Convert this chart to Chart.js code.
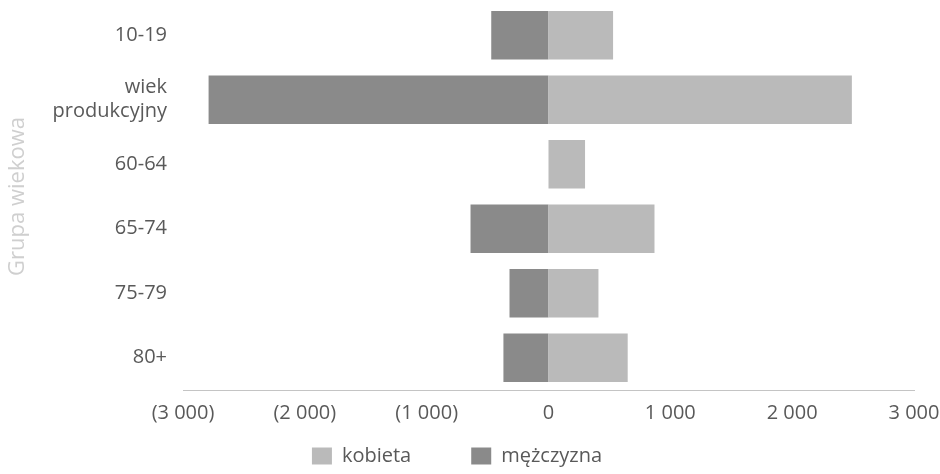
<!DOCTYPE html>
<html>
<head>
<meta charset="utf-8">
<script src="https://cdn.jsdelivr.net/npm/chart.js@4/dist/chart.umd.min.js"></script>
<style>
  html, body { margin:0; padding:0; background:#fff; }
  #wrap { width:940px; height:474px; }
</style>
</head>
<body>
<div id="wrap"><canvas id="c" width="940" height="474"></canvas></div>
<script>
// grupy wiekowe (od góry)
const groups = ['10-19', ['wiek', 'produkcyjny'], '60-64', '65-74', '75-79', '80+'];
// kobiety po prawej, mężczyźni po lewej (wartości ujemne)
const kobieta   = [530, 2490, 300, 870, 410, 650];
const mezczyzna = [-470, -2790, 0, -640, -320, -370];
const xTicks = [-3000, -2000, -1000, 0, 1000, 2000, 3000];

const FONT = '"Open Sans", "DejaVu Sans", sans-serif';
const TXT = '#595959';

const fmt = v => {
  const s = Math.abs(v).toString().replace(/\B(?=(\d{3})+(?!\d))/g, ' ');
  return v < 0 ? '(' + s + ')' : s;
};

new Chart(document.getElementById('c').getContext('2d'), {
  type: 'bar',
  data: {
    labels: groups,
    datasets: [
      { label:'kobieta', data:kobieta, backgroundColor:'#bababa', categoryPercentage:0.75, barPercentage:1 },
      { label:'mężczyzna', data:mezczyzna, backgroundColor:'#8a8a8a', categoryPercentage:0.75, barPercentage:1 }
    ]
  },
  options: {
    indexAxis: 'y',
    responsive: false,
    animation: false,
    layout: { padding: { top:3, right:26, left:0, bottom:-2 } },
    scales: {
      x: {
        stacked: true,
        min: -3000, max: 3000,
        afterBuildTicks: s => { s.ticks = xTicks.map(v => ({ value:v })); },
        afterFit: s => { s.height = 46; s.paddingLeft = 0; s.paddingRight = 0; },
        grid: { display:false, drawTicks:false },
        border: { display:true, color:'#c4c4c4', dash:[1,2], width:1 },
        ticks: { callback: fmt, color:TXT, font:{ family:FONT, size:20 }, padding:11, maxRotation:0 }
      },
      y: {
        stacked: true,
        afterFit: s => { s.width = 183; s.paddingTop = 0; s.paddingBottom = 0; },
        grid: { display:false, drawTicks:false },
        border: { display:false },
        ticks: { color:TXT, font:{ family:FONT, size:20 }, padding:16 },
        title: { display:true, text:'Grupa wiekowa', color:'#cfcfcf', font:{ family:FONT, size:22 }, padding:{ top:5, bottom:0 } }
      }
    },
    plugins: {
      tooltip: { enabled:false },
      legend: {
        position: 'bottom',
        labels: {
          color: TXT,
          font: { family:FONT, size:20 },
          boxWidth: 20, boxHeight: 17, padding: 10,
          generateLabels: c => Chart.defaults.plugins.legend.labels.generateLabels(c)
            .map((l, i) => i === 0 ? { ...l, text: l.text + '\u2003\u2003\u2002' } : l)
        }
      }
    }
  }
});
</script>
</body>
</html>
